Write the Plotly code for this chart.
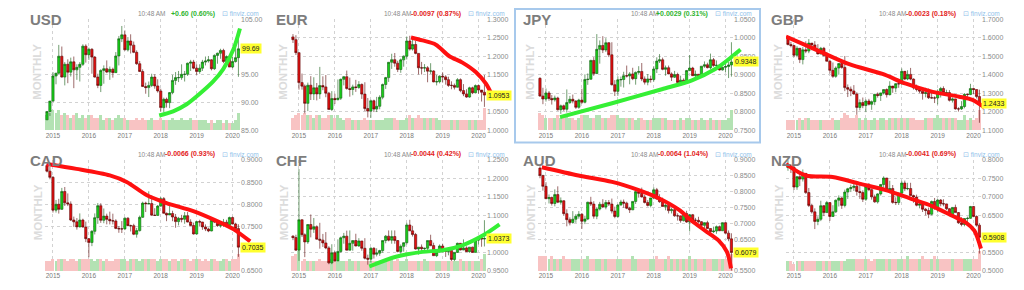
import plotly.graph_objects as go
import pandas as pd

# ---------------- data ----------------
months = pd.date_range('2014-11-01', periods=65, freq='MS')

USD_open0 = 86.90
USD_close = [88.40, 90.27, 94.79, 95.31, 98.36, 94.60, 96.91, 95.48, 97.34, 95.90, 96.35, 96.90, 100.17,
             98.63, 99.61, 98.20, 94.60, 93.10, 95.80, 96.10, 95.50, 96.00, 95.40, 98.40, 101.50, 102.20,
             99.50, 101.10, 100.35, 99.05, 97.00, 95.60, 92.90, 92.70, 93.10, 94.60, 93.00, 92.10, 89.10,
             90.60, 90.00, 91.80, 94.00, 94.50, 94.50, 95.10, 95.10, 97.10, 97.30, 96.20, 95.60, 96.20,
             97.30, 97.50, 97.70, 96.10, 98.50, 98.90, 99.40, 97.40, 98.30, 96.40, 97.40, 98.10, 99.69]
USD_high = [88.45, 90.30, 95.50, 95.30, 100.39, 100.10, 97.30, 97.80, 98.10, 98.30, 96.90, 97.30, 100.50,
            100.50, 99.90, 99.80, 98.40, 95.20, 96.00, 96.70, 97.60, 96.50, 96.30, 99.10, 102.00, 103.80,
            103.00, 101.80, 102.30, 101.00, 99.40, 97.50, 96.00, 93.60, 93.80, 95.20, 95.10, 94.20, 92.50,
            90.90, 90.90, 91.90, 95.00, 95.50, 95.70, 96.90, 95.70, 97.20, 97.70, 97.70, 96.90, 96.90,
            97.70, 98.30, 98.40, 97.80, 98.70, 99.00, 99.70, 99.70, 98.50, 98.30, 98.20, 99.90, 103.00]
USD_low = [86.90, 87.60, 90.10, 93.30, 95.10, 94.50, 93.10, 93.50, 94.70, 92.60, 94.10, 93.80, 96.60,
           97.20, 97.70, 95.20, 94.50, 92.60, 91.90, 93.40, 95.30, 94.10, 94.50, 95.40, 96.70, 100.90,
           99.40, 99.20, 98.85, 98.90, 96.80, 95.50, 92.80, 91.60, 91.00, 92.80, 92.50, 91.80, 88.40,
           88.25, 89.10, 89.00, 91.50, 93.20, 93.70, 94.10, 93.80, 94.80, 95.70, 96.00, 95.00, 95.20,
           95.70, 96.70, 97.20, 95.80, 95.90, 97.00, 97.90, 97.10, 97.00, 96.40, 96.20, 97.20, 94.65]
USD_vol = [6, 7, 8, 7, 8, 6, 7, 6, 5, 6, 7, 5, 6,
           5, 6, 6, 5, 5, 6, 4, 5, 5, 4, 5, 6, 5,
           5, 4, 4, 4, 5, 4, 5, 4, 4, 5, 4, 4, 5,
           4, 4, 4, 5, 4, 4, 5, 4, 4, 5, 4, 4, 4,
           4, 4, 3, 4, 3, 4, 4, 3, 4, 3, 3, 4, 7]
USD_trend_x = ['2017-12-16', '2018-05-07', '2018-09-21', '2019-02-04', '2019-06-18', '2019-09-28', '2020-01-09', '2020-03-16']
USD_trend_y = [87.67, 88.43, 89.71, 91.64, 93.82, 96.04, 99.55, 103.36]

EUR_open0 = 1.2525
EUR_close = [1.2450, 1.2100, 1.1290, 1.1195, 1.0730, 1.1220, 1.0985, 1.1150, 1.0985, 1.1210, 1.1175, 1.1005, 1.0565,
             1.0860, 1.0830, 1.0870, 1.1380, 1.1450, 1.1130, 1.1105, 1.1175, 1.1160, 1.1240, 1.0980, 1.0590, 1.0520,
             1.0800, 1.0575, 1.0650, 1.0895, 1.1240, 1.1425, 1.1840, 1.1910, 1.1815, 1.1645, 1.1905, 1.2005, 1.2415,
             1.2195, 1.2320, 1.2080, 1.1690, 1.1685, 1.1690, 1.1600, 1.1605, 1.1310, 1.1315, 1.1465, 1.1445, 1.1370,
             1.1215, 1.1215, 1.1165, 1.1370, 1.1075, 1.0985, 1.0900, 1.1150, 1.1015, 1.1210, 1.1090, 1.1030, 1.0953]
EUR_high = [1.2600, 1.2570, 1.2110, 1.1535, 1.1240, 1.1290, 1.1465, 1.1435, 1.1280, 1.1715, 1.1460, 1.1495, 1.1040,
            1.1060, 1.0990, 1.1375, 1.1400, 1.1465, 1.1615, 1.1425, 1.1235, 1.1365, 1.1330, 1.1270, 1.1300, 1.0875,
            1.0830, 1.0830, 1.0905, 1.0950, 1.1265, 1.1445, 1.1845, 1.2070, 1.2090, 1.1880, 1.1940, 1.2025, 1.2535,
            1.2555, 1.2475, 1.2415, 1.2085, 1.1850, 1.1790, 1.1735, 1.1815, 1.1625, 1.1500, 1.1485, 1.1570, 1.1490,
            1.1450, 1.1325, 1.1265, 1.1410, 1.1405, 1.1250, 1.1110, 1.1180, 1.1180, 1.1240, 1.1240, 1.1055, 1.1495]
EUR_low = [1.2360, 1.2035, 1.1100, 1.1100, 1.0460, 1.0520, 1.0820, 1.0820, 1.0810, 1.0850, 1.1085, 1.0895, 1.0560,
           1.0520, 1.0710, 1.0810, 1.0820, 1.1215, 1.1100, 1.0910, 1.0950, 1.1040, 1.1120, 1.0850, 1.0520, 1.0350,
           1.0340, 1.0495, 1.0495, 1.0570, 1.0840, 1.1120, 1.1310, 1.1660, 1.1720, 1.1575, 1.1555, 1.1720, 1.1915,
           1.2155, 1.2155, 1.2055, 1.1510, 1.1510, 1.1575, 1.1300, 1.1525, 1.1300, 1.1215, 1.1270, 1.1290, 1.1235,
           1.1175, 1.1110, 1.1105, 1.1180, 1.1030, 1.0925, 1.0880, 1.0880, 1.0980, 1.1000, 1.0990, 1.0780, 1.0635]
EUR_vol = [5, 6, 7, 6, 7, 6, 6, 5, 6, 6, 5, 5, 6,
           6, 5, 6, 5, 4, 5, 5, 4, 4, 4, 4, 5, 4,
           4, 4, 4, 4, 4, 5, 5, 5, 5, 4, 4, 4, 5,
           6, 5, 5, 6, 5, 5, 5, 5, 5, 5, 4, 4, 4,
           4, 4, 4, 4, 4, 4, 4, 4, 4, 4, 4, 4, 9]
EUR_trend_x = ['2018-02-13', '2018-06-10', '2018-10-24', '2019-03-07', '2019-07-21', '2019-12-06', '2020-03-16', '2020-05-21']
EUR_trend_y = [1.251, 1.243, 1.2315, 1.201, 1.183, 1.157, 1.126, 1.093]

JPY_open0 = 0.8905
JPY_close = [0.8428, 0.8347, 0.8511, 0.8361, 0.8326, 0.8375, 0.8058, 0.8163, 0.8071, 0.8251, 0.8340, 0.8292, 0.8123,
             0.8319, 0.8258, 0.8873, 0.8881, 0.9390, 0.9033, 0.9690, 0.9794, 0.9671, 0.9867, 0.9542, 0.8734, 0.8554,
             0.8865, 0.8873, 0.8977, 0.8969, 0.9025, 0.8897, 0.9066, 0.9091, 0.8889, 0.8803, 0.8889, 0.8873, 0.9158,
             0.9372, 0.9407, 0.9149, 0.9191, 0.9025, 0.8937, 0.9009, 0.8795, 0.8857, 0.8811, 0.9116, 0.9183, 0.8977,
             0.9017, 0.8977, 0.9234, 0.9272, 0.9195, 0.9407, 0.9251, 0.9259, 0.9132, 0.9204, 0.9225, 0.9268, 0.9348]
JPY_high = [0.8937, 0.8651, 0.8632, 0.8562, 0.8453, 0.8439, 0.8410, 0.8197, 0.8197, 0.8606, 0.8432, 0.8467, 0.8316,
            0.8354, 0.8624, 0.9013, 0.9038, 0.9407, 0.9479, 1.0101, 0.9930, 1.0045, 0.9990, 0.9881, 0.9881, 0.8857,
            0.8961, 0.8953, 0.9083, 0.9251, 0.9074, 0.9191, 0.9091, 0.9234, 0.9320, 0.8957, 0.9021, 0.8977, 0.9234,
            0.9474, 0.9560, 0.9465, 0.9251, 0.9251, 0.9066, 0.9107, 0.9058, 0.8977, 0.8905, 0.9132, 0.9533, 0.9217,
            0.9116, 0.9021, 0.9234, 0.9363, 0.9328, 0.9574, 0.9456, 0.9390, 0.9265, 0.9225, 0.9294, 0.9346, 0.9881]
JPY_low = [0.8405, 0.8207, 0.8278, 0.8299, 0.8197, 0.8278, 0.8035, 0.7946, 0.8026, 0.7981, 0.8214, 0.8230, 0.8081,
           0.8084, 0.8217, 0.8230, 0.8730, 0.8873, 0.8973, 0.9054, 0.9302, 0.9588, 0.9615, 0.9479, 0.8711, 0.8428,
           0.8432, 0.8681, 0.8658, 0.8929, 0.8745, 0.8857, 0.8734, 0.9005, 0.8830, 0.8738, 0.8718, 0.8791, 0.8818,
           0.9050, 0.9320, 0.9124, 0.8977, 0.9017, 0.8834, 0.8917, 0.8772, 0.8730, 0.8757, 0.8787, 0.9099, 0.8969,
           0.8921, 0.8897, 0.8953, 0.9191, 0.9174, 0.9149, 0.9217, 0.9149, 0.9116, 0.9116, 0.9066, 0.8913, 0.8953]
JPY_vol = [7, 6, 5, 5, 5, 5, 6, 5, 5, 6, 5, 5, 4,
           5, 6, 6, 6, 5, 5, 6, 6, 5, 5, 5, 6, 6,
           6, 5, 5, 5, 5, 5, 4, 5, 5, 4, 4, 4, 5,
           5, 5, 5, 5, 4, 4, 4, 4, 5, 4, 5, 5, 4,
           4, 4, 5, 4, 4, 5, 4, 4, 4, 4, 4, 5, 8]
JPY_trend_x = ['2015-05-24', '2016-11-03', '2018-03-24', '2019-01-24', '2019-09-18', '2020-02-01', '2020-06-01']
JPY_trend_y = [0.7856, 0.8233, 0.8612, 0.8850, 0.9156, 0.9419, 0.9683]

GBP_open0 = 1.6000
GBP_close = [1.5640, 1.5580, 1.5060, 1.5435, 1.4825, 1.5350, 1.5285, 1.5715, 1.5615, 1.5345, 1.5130, 1.5435, 1.5040,
             1.4735, 1.4245, 1.3920, 1.4370, 1.4610, 1.4400, 1.3310, 1.3225, 1.3130, 1.2970, 1.2240, 1.2500, 1.2340,
             1.2585, 1.2410, 1.2550, 1.2950, 1.2885, 1.3025, 1.3205, 1.2930, 1.3395, 1.3285, 1.3525, 1.3515, 1.4190,
             1.3775, 1.4025, 1.3770, 1.3295, 1.3205, 1.3120, 1.2995, 1.3035, 1.2765, 1.2750, 1.2750, 1.3110, 1.3260,
             1.3035, 1.3040, 1.2625, 1.2700, 1.2160, 1.2160, 1.2290, 1.2945, 1.2935, 1.3260, 1.3205, 1.2825, 1.2433]
GBP_high = [1.6030, 1.5785, 1.5620, 1.5550, 1.5450, 1.5500, 1.5815, 1.5930, 1.5690, 1.5820, 1.5660, 1.5510, 1.5510,
            1.5240, 1.4810, 1.4670, 1.4460, 1.4640, 1.4770, 1.5020, 1.3480, 1.3370, 1.3445, 1.3060, 1.2675, 1.2775,
            1.2675, 1.2705, 1.2615, 1.2965, 1.3050, 1.3030, 1.3215, 1.3265, 1.3655, 1.3340, 1.3550, 1.3550, 1.4345,
            1.4145, 1.4245, 1.4375, 1.3810, 1.3475, 1.3360, 1.3155, 1.3300, 1.3260, 1.3175, 1.2840, 1.3215, 1.3350,
            1.3380, 1.3195, 1.3175, 1.2780, 1.2710, 1.2250, 1.2580, 1.3010, 1.2990, 1.3515, 1.3285, 1.3200, 1.3200]
GBP_low = [1.5590, 1.5485, 1.4950, 1.4950, 1.4635, 1.4565, 1.5170, 1.5170, 1.5330, 1.5330, 1.5105, 1.5105, 1.4990,
           1.4730, 1.4080, 1.3835, 1.3840, 1.4005, 1.4330, 1.3120, 1.2800, 1.2850, 1.2915, 1.1840, 1.2080, 1.2200,
           1.1985, 1.2345, 1.2110, 1.2365, 1.2770, 1.2590, 1.2935, 1.2775, 1.2885, 1.3030, 1.3060, 1.3300, 1.3460,
           1.3710, 1.3710, 1.3710, 1.3205, 1.3100, 1.3010, 1.2660, 1.2785, 1.2695, 1.2720, 1.2475, 1.2400, 1.2775,
           1.2945, 1.2865, 1.2560, 1.2505, 1.2120, 1.2015, 1.2100, 1.2195, 1.2770, 1.2905, 1.2950, 1.2725, 1.1410]
GBP_vol = [4, 4, 4, 4, 5, 4, 5, 5, 4, 4, 4, 4, 4,
           4, 4, 5, 4, 4, 5, 7, 6, 5, 5, 6, 5, 4,
           5, 4, 4, 5, 4, 5, 5, 4, 5, 5, 5, 5, 5,
           5, 5, 5, 5, 4, 4, 4, 5, 5, 5, 5, 6, 5,
           5, 5, 5, 5, 5, 4, 4, 6, 4, 5, 4, 5, 8]
GBP_trend_x = ['2014-10-12', '2015-08-11', '2016-07-16', '2017-06-19', '2018-02-13', '2018-11-11', '2019-08-07', '2019-12-21', '2020-04-19']
GBP_trend_y = [1.607, 1.5365, 1.4575, 1.4047, 1.352, 1.308, 1.282, 1.2645, 1.224]

CAD_open0 = 0.8870
CAD_close = [0.8745, 0.8606, 0.7868, 0.8000, 0.7886, 0.8288, 0.8032, 0.8006, 0.7645, 0.7605, 0.7491, 0.7645, 0.7488,
             0.7225, 0.7138, 0.7391, 0.7698, 0.7968, 0.7639, 0.7734, 0.7660, 0.7628, 0.7625, 0.7457, 0.7446, 0.7446,
             0.7686, 0.7519, 0.7519, 0.7326, 0.7407, 0.7707, 0.8026, 0.8013, 0.8016, 0.7755, 0.7749, 0.7959, 0.8127,
             0.7797, 0.7758, 0.7791, 0.7713, 0.7610, 0.7683, 0.7663, 0.7743, 0.7599, 0.7522, 0.7331, 0.7610, 0.7599,
             0.7491, 0.7443, 0.7399, 0.7639, 0.7599, 0.7519, 0.7550, 0.7596, 0.7527, 0.7701, 0.7556, 0.7452, 0.7035]
CAD_high = [0.8900, 0.8838, 0.8636, 0.8097, 0.8123, 0.8368, 0.8389, 0.8244, 0.8065, 0.7722, 0.7689, 0.7794, 0.7675,
            0.7610, 0.7239, 0.7418, 0.7794, 0.8026, 0.8023, 0.7905, 0.7788, 0.7834, 0.7788, 0.7663, 0.7508, 0.7622,
            0.7710, 0.7710, 0.7541, 0.7561, 0.7468, 0.7746, 0.8058, 0.8058, 0.8292, 0.8200, 0.7911, 0.7984, 0.8163,
            0.8163, 0.7813, 0.7984, 0.7855, 0.7782, 0.7716, 0.7761, 0.7825, 0.7825, 0.7663, 0.7587, 0.7622, 0.7651,
            0.7605, 0.7547, 0.7474, 0.7654, 0.7683, 0.7625, 0.7613, 0.7669, 0.7651, 0.7722, 0.7722, 0.7584, 0.7550]
CAD_low = [0.8718, 0.8562, 0.7813, 0.7813, 0.7791, 0.7874, 0.7962, 0.7959, 0.7622, 0.7491, 0.7429, 0.7477, 0.7474,
           0.7148, 0.6807, 0.7057, 0.7321, 0.7559, 0.7582, 0.7573, 0.7547, 0.7547, 0.7547, 0.7440, 0.7358, 0.7353,
           0.7418, 0.7508, 0.7388, 0.7305, 0.7249, 0.7386, 0.7692, 0.7825, 0.8000, 0.7743, 0.7743, 0.7740, 0.7943,
           0.7791, 0.7619, 0.7758, 0.7619, 0.7471, 0.7524, 0.7593, 0.7561, 0.7593, 0.7508, 0.7318, 0.7318, 0.7499,
           0.7424, 0.7396, 0.7372, 0.7391, 0.7576, 0.7493, 0.7474, 0.7491, 0.7505, 0.7508, 0.7547, 0.7440, 0.6817]
CAD_vol = [4, 4, 5, 4, 5, 5, 5, 4, 5, 5, 4, 5, 5,
           5, 5, 5, 4, 5, 5, 4, 5, 4, 4, 5, 5, 5,
           5, 4, 5, 5, 5, 4, 5, 5, 5, 5, 5, 4, 5,
           5, 5, 4, 5, 5, 4, 5, 5, 5, 4, 5, 5, 5,
           4, 5, 4, 5, 5, 4, 4, 5, 5, 4, 5, 5, 7]
CAD_trend_x = ['2014-10-28', '2015-08-28', '2016-08-01', '2017-01-19', '2017-08-09', '2018-03-01', '2018-11-28', '2019-07-22', '2020-01-09', '2020-06-28']
CAD_trend_y = [0.8906, 0.8796, 0.8649, 0.8503, 0.8209, 0.8027, 0.7844, 0.7625, 0.7440, 0.7163]

CHF_open0 = 1.0438
CHF_close = [1.0400, 1.0060, 1.0881, 1.0477, 1.0283, 1.0753, 1.0627, 1.0695, 1.0357, 1.0331, 1.0256, 1.0121, 0.9718,
             0.9990, 0.9770, 1.0025, 1.0395, 1.0438, 1.0060, 1.0246, 1.0320, 1.0173, 1.0309, 1.0111, 0.9843, 0.9818,
             1.0111, 0.9950, 0.9980, 1.0050, 1.0320, 1.0438, 1.0331, 1.0428, 1.0320, 1.0025, 1.0163, 1.0262, 1.0741,
             1.0582, 1.0482, 1.0091, 1.0142, 1.0101, 1.0111, 1.0320, 1.0183, 0.9911, 1.0010, 1.0173, 1.0065, 1.0025,
             1.0050, 0.9809, 1.0000, 1.0246, 1.0065, 1.0121, 1.0020, 1.0142, 1.0000, 1.0331, 1.0390, 1.0363, 1.0373]
CHF_high = [1.0466, 1.0477, 1.2250, 1.0893, 1.0515, 1.0764, 1.1025, 1.0929, 1.0730, 1.0799, 1.0499, 1.0549, 1.0168,
            1.0220, 1.0035, 1.0352, 1.0428, 1.0526, 1.0588, 1.0593, 1.0320, 1.0504, 1.0384, 1.0309, 1.0384, 0.9940,
            1.0142, 1.0142, 1.0111, 1.0070, 1.0320, 1.0471, 1.0593, 1.0593, 1.0593, 1.0331, 1.0215, 1.0272, 1.0799,
            1.0881, 1.0718, 1.0526, 1.0142, 1.0215, 1.0127, 1.0320, 1.0477, 1.0262, 1.0040, 1.0215, 1.0235, 1.0101,
            1.0065, 1.0050, 1.0000, 1.0262, 1.0225, 1.0352, 1.0163, 1.0142, 1.0152, 1.0336, 1.0406, 1.0417, 1.0870]
CHF_low = [1.0331, 1.0045, 0.9770, 1.0417, 0.9872, 1.0230, 1.0406, 1.0526, 1.0347, 1.0101, 1.0147, 1.0086, 0.9681,
           0.9681, 0.9751, 0.9771, 0.9990, 1.0235, 1.0055, 1.0065, 1.0045, 1.0163, 1.0152, 1.0045, 0.9809, 0.9667,
           0.9728, 0.9833, 0.9891, 0.9906, 0.9990, 1.0246, 1.0299, 1.0235, 1.0235, 1.0000, 0.9965, 1.0020, 1.0215,
           1.0582, 1.0428, 1.0076, 0.9940, 1.0010, 1.0000, 1.0040, 1.0168, 0.9911, 0.9872, 1.0000, 1.0000, 0.9877,
           0.9921, 0.9770, 0.9766, 0.9985, 1.0055, 1.0060, 1.0010, 0.9990, 0.9990, 1.0000, 1.0215, 1.0152, 1.0160]
CHF_vol = [6, 7, 8, 4, 5, 4, 4, 4, 4, 5, 4, 4, 4,
           5, 4, 4, 4, 4, 4, 5, 4, 4, 4, 4, 4, 4,
           4, 4, 4, 4, 4, 4, 4, 5, 4, 5, 4, 4, 5,
           4, 4, 4, 4, 4, 5, 4, 4, 4, 4, 4, 4, 4,
           4, 4, 4, 4, 5, 4, 4, 4, 4, 4, 4, 5, 7]
CHF_trend_x = ['2016-12-16', '2017-09-13', '2018-06-10', '2019-01-01', '2019-07-21', '2020-02-12', '2020-08-01']
CHF_trend_y = [0.9619, 0.9882, 1.0014, 1.0059, 1.0191, 1.0454, 1.0760]

AUD_open0 = 0.8740
AUD_close = [0.8505, 0.8165, 0.7775, 0.7815, 0.7625, 0.7905, 0.7665, 0.7710, 0.7305, 0.7115, 0.7025, 0.7130, 0.7225,
             0.7285, 0.7065, 0.7135, 0.7665, 0.7605, 0.7225, 0.7450, 0.7600, 0.7515, 0.7655, 0.7605, 0.7385, 0.7215,
             0.7575, 0.7670, 0.7635, 0.7475, 0.7425, 0.7690, 0.7995, 0.7945, 0.7830, 0.7655, 0.7565, 0.7800, 0.8055,
             0.7765, 0.7680, 0.7530, 0.7565, 0.7400, 0.7430, 0.7235, 0.7235, 0.7085, 0.7310, 0.7040, 0.7270, 0.7095,
             0.7095, 0.7050, 0.6935, 0.7020, 0.6835, 0.6735, 0.6755, 0.6895, 0.6765, 0.7020, 0.6690, 0.6510, 0.6079]
AUD_high = [0.8795, 0.8530, 0.8295, 0.7910, 0.7840, 0.8070, 0.8165, 0.7815, 0.7725, 0.7440, 0.7185, 0.7385, 0.7290,
            0.7385, 0.7325, 0.7240, 0.7680, 0.7835, 0.7695, 0.7510, 0.7675, 0.7760, 0.7735, 0.7735, 0.7780, 0.7525,
            0.7610, 0.7740, 0.7750, 0.7680, 0.7520, 0.7695, 0.8065, 0.8065, 0.8125, 0.7900, 0.7730, 0.7805, 0.8135,
            0.8115, 0.7915, 0.7810, 0.7610, 0.7675, 0.7485, 0.7450, 0.7315, 0.7240, 0.7315, 0.7395, 0.7295, 0.7295,
            0.7170, 0.7205, 0.7070, 0.7030, 0.7080, 0.6840, 0.6895, 0.6930, 0.6930, 0.7030, 0.7030, 0.6775, 0.6685]
AUD_low = [0.8420, 0.8030, 0.7770, 0.7625, 0.7560, 0.7535, 0.7635, 0.7590, 0.7235, 0.6905, 0.6935, 0.6985, 0.7015,
           0.7145, 0.6825, 0.6975, 0.7100, 0.7545, 0.7145, 0.7130, 0.7405, 0.7480, 0.7440, 0.7545, 0.7310, 0.7160,
           0.7165, 0.7560, 0.7490, 0.7445, 0.7325, 0.7415, 0.7610, 0.7810, 0.7815, 0.7625, 0.7530, 0.7500, 0.7760,
           0.7755, 0.7645, 0.7530, 0.7410, 0.7310, 0.7310, 0.7205, 0.7085, 0.7020, 0.7055, 0.7015, 0.6745, 0.7055,
           0.7005, 0.7010, 0.6865, 0.6830, 0.6830, 0.6680, 0.6690, 0.6670, 0.6755, 0.6755, 0.6680, 0.6435, 0.5510]
AUD_vol = [6, 6, 6, 5, 6, 5, 5, 5, 6, 5, 5, 5, 5,
           5, 5, 5, 6, 5, 5, 5, 5, 5, 5, 5, 5, 5,
           5, 5, 5, 5, 5, 6, 5, 5, 5, 5, 5, 5, 5,
           6, 5, 5, 5, 6, 5, 5, 5, 5, 5, 5, 6, 5,
           5, 5, 5, 5, 5, 5, 5, 5, 5, 5, 5, 5, 7]
AUD_trend_x = ['2014-11-20', '2015-11-27', '2016-11-03', '2017-08-01', '2018-02-21', '2018-09-12', '2019-01-24', '2019-06-07', '2019-10-21', '2020-01-15', '2020-02-25']
AUD_trend_y = [0.8767, 0.8508, 0.8305, 0.8047, 0.7792, 0.7432, 0.7075, 0.6767, 0.6460, 0.6100, 0.5580]

NZD_open0 = 0.7790
NZD_close = [0.7810, 0.7800, 0.7265, 0.7545, 0.7480, 0.7635, 0.7115, 0.6770, 0.6595, 0.6335, 0.6395, 0.6760, 0.6575,
             0.6845, 0.6470, 0.6595, 0.6910, 0.6970, 0.6770, 0.7130, 0.7220, 0.7250, 0.7290, 0.7145, 0.7115, 0.6935,
             0.7290, 0.7195, 0.7000, 0.6865, 0.7080, 0.7335, 0.7510, 0.7180, 0.7225, 0.6850, 0.6845, 0.7100, 0.7375,
             0.7220, 0.7225, 0.7035, 0.6995, 0.6775, 0.6805, 0.6665, 0.6630, 0.6530, 0.6875, 0.6710, 0.6915, 0.6815,
             0.6810, 0.6680, 0.6525, 0.6715, 0.6575, 0.6300, 0.6255, 0.6415, 0.6420, 0.6740, 0.6470, 0.6235, 0.5908]
NZD_high = [0.7990, 0.7880, 0.7850, 0.7560, 0.7630, 0.7740, 0.7625, 0.7240, 0.6815, 0.6690, 0.6475, 0.6895, 0.6775,
            0.6890, 0.6845, 0.6775, 0.6930, 0.7040, 0.6990, 0.7195, 0.7245, 0.7330, 0.7400, 0.7335, 0.7400, 0.7175,
            0.7300, 0.7375, 0.7230, 0.7060, 0.7100, 0.7345, 0.7555, 0.7500, 0.7435, 0.7320, 0.6990, 0.7115, 0.7435,
            0.7440, 0.7380, 0.7380, 0.7060, 0.7060, 0.6865, 0.6815, 0.6700, 0.6710, 0.6900, 0.6970, 0.6940, 0.6940,
            0.6935, 0.6815, 0.6695, 0.6725, 0.6790, 0.6590, 0.6450, 0.6425, 0.6465, 0.6755, 0.6755, 0.6500, 0.6290]
NZD_low = [0.7705, 0.7645, 0.7185, 0.7190, 0.7290, 0.7415, 0.7080, 0.6725, 0.6550, 0.6130, 0.6235, 0.6345, 0.6480,
           0.6580, 0.6350, 0.6460, 0.6565, 0.6740, 0.6675, 0.6715, 0.6945, 0.7130, 0.7160, 0.7035, 0.6945, 0.6860,
           0.6890, 0.7155, 0.6925, 0.6840, 0.6820, 0.7035, 0.7245, 0.7180, 0.7150, 0.6815, 0.6780, 0.6780, 0.7050,
           0.7155, 0.7180, 0.7030, 0.6840, 0.6745, 0.6690, 0.6590, 0.6500, 0.6425, 0.6500, 0.6650, 0.6580, 0.6745,
           0.6745, 0.6645, 0.6480, 0.6490, 0.6575, 0.6270, 0.6205, 0.6205, 0.6315, 0.6405, 0.6450, 0.6195, 0.5470]
NZD_vol = [4, 4, 3, 4, 4, 4, 4, 4, 4, 4, 4, 4, 4,
           4, 4, 4, 4, 4, 4, 4, 5, 5, 5, 5, 5, 5,
           5, 5, 4, 5, 5, 5, 5, 5, 5, 5, 5, 5, 5,
           5, 6, 5, 5, 5, 5, 6, 5, 5, 5, 6, 5, 5,
           5, 5, 5, 5, 5, 5, 5, 5, 5, 5, 5, 5, 8]
NZD_trend_x = ['2014-10-12', '2015-05-01', '2016-01-28', '2016-10-25', '2017-07-22', '2018-03-19', '2018-11-11', '2019-06-04', '2019-10-15', '2020-01-09', '2020-03-16']
NZD_trend_y = [0.7887, 0.7578, 0.7536, 0.7359, 0.7183, 0.6964, 0.6745, 0.6481, 0.6305, 0.6086, 0.5601]

names = ['USD', 'EUR', 'JPY', 'GBP', 'CAD', 'CHF', 'AUD', 'NZD']
changes = ['+0.60 (0.60%)', '-0.0097 (0.87%)', '+0.0029 (0.31%)', '-0.0023 (0.18%)',
           '-0.0066 (0.93%)', '-0.0044 (0.42%)', '-0.0064 (1.04%)', '-0.0041 (0.69%)']
trend_up = [True, False, True, False, False, True, False, False]
y_ranges = [[85, 105], [1.0, 1.3], [0.75, 1.05], [1.1, 1.7], [0.65, 0.90], [0.95, 1.25], [0.55, 0.90], [0.50, 0.80]]
y_dticks = [5, 0.05, 0.05, 0.1, 0.05, 0.05, 0.05, 0.05]
time_label = '10:48 AM'

series = {
    'USD': (USD_open0, USD_close, USD_high, USD_low, USD_vol, USD_trend_x, USD_trend_y),
    'EUR': (EUR_open0, EUR_close, EUR_high, EUR_low, EUR_vol, EUR_trend_x, EUR_trend_y),
    'JPY': (JPY_open0, JPY_close, JPY_high, JPY_low, JPY_vol, JPY_trend_x, JPY_trend_y),
    'GBP': (GBP_open0, GBP_close, GBP_high, GBP_low, GBP_vol, GBP_trend_x, GBP_trend_y),
    'CAD': (CAD_open0, CAD_close, CAD_high, CAD_low, CAD_vol, CAD_trend_x, CAD_trend_y),
    'CHF': (CHF_open0, CHF_close, CHF_high, CHF_low, CHF_vol, CHF_trend_x, CHF_trend_y),
    'AUD': (AUD_open0, AUD_close, AUD_high, AUD_low, AUD_vol, AUD_trend_x, AUD_trend_y),
    'NZD': (NZD_open0, NZD_close, NZD_high, NZD_low, NZD_vol, NZD_trend_x, NZD_trend_y),
}

# ---------------- layout / styling ----------------
W, H = 1024, 290
FONT = 'Liberation Sans, Arial, sans-serif'
COL_X = [22, 268, 515, 763]
ROW_Y = [0, 144]
PLOT_H = 113.8
UP_FILL, UP_LINE = '#18d018', '#125c12'
DN_FILL, DN_LINE = '#e41010', '#5a0606'
VOL_UP, VOL_DN = '#b3e2b3', '#f8c3c3'
TREND_UP, TREND_DN = '#35ef35', '#ff1010'
GRID = '#d2d2d2'


def xr(n):
    return 'x' if n == 1 else f'x{n}'


def yr(n):
    return 'y' if n == 1 else f'y{n}'


def xk(n):
    return 'xaxis' if n == 1 else f'xaxis{n}'


def yk(n):
    return 'yaxis' if n == 1 else f'yaxis{n}'


fig = go.Figure()
layout = dict(width=W, height=H, margin=dict(l=0, r=0, t=0, b=0), showlegend=False,
              paper_bgcolor='white', plot_bgcolor='rgba(0,0,0,0)', bargap=0,
              boxgap=0.18, boxgroupgap=0.0,
              font=dict(family=FONT), annotations=[], shapes=[])

trend_traces = []
for i, name in enumerate(names):
    open0, close, high, low, vol, tx, ty = series[name]
    opens = [open0] + close[:-1]
    c, r = i % 4, i // 4
    bx, ry = COL_X[c], ROW_Y[r]
    xmain, ytr_x = i + 1, i + 9
    yvol, yprice, ytrend = i + 1, i + 9, i + 17
    xdom = [(bx + 23) / W, (bx + 218) / W]
    xdom_tr = [(bx + 23) / W, (bx + 233) / W]
    ydom = [1 - (ry + 129.5) / H, 1 - (ry + 15.7) / H]
    fmt = '.2f' if name == 'USD' else '.4f'
    rising = changes[i].startswith('+')
    lo, hi = y_ranges[i]

    # price ticks; the one hidden under the yellow last-price flag is left out (as in the reference)
    ticks = []
    k = 0
    while lo + k * y_dticks[i] <= hi + 1e-9:
        v = round(lo + k * y_dticks[i], 6)
        if abs(v - close[-1]) / (hi - lo) * PLOT_H >= 5:
            ticks.append(v)
        k += 1

    vcolors = [VOL_UP if cl >= op else VOL_DN for op, cl in zip(opens, close)]
    fig.add_trace(go.Bar(x=months, y=vol, marker=dict(color=vcolors, line=dict(width=0)),
                         width=30 * 86400000, xaxis=xr(xmain), yaxis=yr(yvol), hoverinfo='skip'))
    fig.add_trace(go.Candlestick(x=months, open=opens, high=high, low=low, close=close,
                                 xaxis=xr(xmain), yaxis=yr(yprice), whiskerwidth=0,
                                 increasing=dict(fillcolor=UP_FILL, line=dict(color=UP_LINE, width=0.6)),
                                 decreasing=dict(fillcolor=DN_FILL, line=dict(color=DN_LINE, width=0.6))))
    trend_traces.append(go.Scatter(x=tx, y=ty, mode='lines', xaxis=xr(ytr_x), yaxis=yr(ytrend),
                                   line=dict(color=TREND_UP if trend_up[i] else TREND_DN, width=4,
                                             shape='spline', smoothing=0.8),
                                   hoverinfo='skip'))

    layout[xk(xmain)] = dict(domain=xdom, type='date', range=['2014-10-12', '2020-03-17'],
                             anchor=yr(yvol), showgrid=True, gridcolor=GRID, griddash='dot', gridwidth=1,
                             dtick='M12', tick0='2015-01-01', tickformat='%Y', ticks='',
                             tickfont=dict(size=6.5, color='#7a7a7a'), showline=False, zeroline=False,
                             rangeslider=dict(visible=False), fixedrange=True)
    layout[yk(yvol)] = dict(domain=ydom, range=[0, 45], anchor=xr(xmain), visible=False, fixedrange=True)
    layout[yk(yprice)] = dict(domain=ydom, range=y_ranges[i], overlaying=yr(yvol), anchor=xr(xmain),
                              side='right', tickmode='array', tickvals=ticks, tickformat=fmt, ticks='',
                              showgrid=True, gridcolor=GRID, griddash='dot', gridwidth=1,
                              tickfont=dict(size=7, color='#8a8a8a'), showline=False, zeroline=False,
                              fixedrange=True)
    layout[xk(ytr_x)] = dict(domain=xdom_tr, type='date', range=['2014-10-12', '2020-08-16'],
                             anchor=yr(ytrend), visible=False, fixedrange=True)
    layout[yk(ytrend)] = dict(domain=ydom, range=y_ranges[i], anchor=xr(ytr_x), visible=False,
                              fixedrange=True)

    hy = 1 - (ry + 10) / H
    ann = layout['annotations']
    ann.append(dict(text=f'<b>{name}</b>', x=(bx + 6) / W, y=1 - (ry + 16) / H, xref='paper', yref='paper',
                    xanchor='left', yanchor='middle', showarrow=False,
                    font=dict(size=15, color='#7d7d7d', family=FONT)))
    ann.append(dict(text='<b>MONTHLY</b>', x=(bx + 15.5) / W, y=1 - (ry + 70) / H, xref='paper',
                    yref='paper', textangle=-90, showarrow=False, xanchor='center', yanchor='middle',
                    font=dict(size=11.5, color='#dcdcdc', family=FONT)))
    ann.append(dict(text=time_label, x=(bx + 114) / W, y=hy, xref='paper', yref='paper',
                    xanchor='left', yanchor='middle', showarrow=False,
                    font=dict(size=6.5, color='#8a8a8a', family=FONT)))
    ann.append(dict(text=f'<b>{changes[i]}</b>', x=(bx + 195) / W, y=hy, xref='paper',
                    yref='paper', xanchor='right', yanchor='middle', showarrow=False,
                    font=dict(size=7, color='#2fb52f' if rising else '#e32222', family=FONT)))
    ann.append(dict(text='⊡ finviz.com', x=(bx + 198) / W, y=hy, xref='paper',
                    yref='paper', xanchor='left', yanchor='middle', showarrow=False,
                    font=dict(size=6.5, color='#8fc1ea', family=FONT)))
    ann.append(dict(text=format(close[-1], fmt), x=(bx + 218) / W, y=close[-1], xref='paper',
                    yref=yr(yprice), xanchor='left', yanchor='middle', showarrow=False,
                    bgcolor='#ffff2e', borderpad=1, font=dict(size=7, color='#222222', family=FONT)))

for t in trend_traces:
    fig.add_trace(t)

# selected (JPY) panel frame
layout['shapes'].append(dict(type='rect', xref='paper', yref='paper', x0=515 / W, x1=760 / W,
                             y0=1 - 142 / H, y1=1 - 5 / H, line=dict(color='#a7c9ec', width=2)))

fig.update_layout(**layout)
fig.write_html('out.html')
